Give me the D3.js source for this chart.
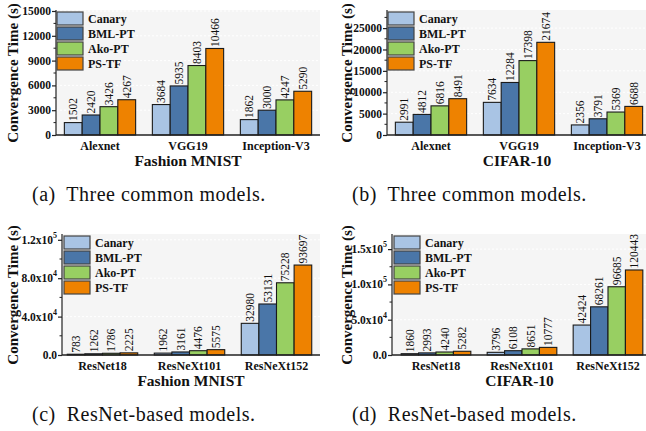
<!DOCTYPE html>
<html>
<head>
<meta charset="utf-8">
<script src="https://cdn.jsdelivr.net/npm/d3@7/dist/d3.min.js"></script>
<style>
  body { margin: 0; background: #fff; }
  svg { display: block; font-family: "Liberation Serif", "Times New Roman", serif; }
</style>
</head>
<body>
<svg id="chart" width="646" height="431"></svg>
<script>
// ---- data ----
var methods = ["Canary", "BML-PT", "Ako-PT", "PS-TF"];
var commonModels = ["Alexnet", "VGG19", "Inception-V3"];
var resnetModels = ["ResNet18", "ResNeXt101", "ResNeXt152"];

// values[model][method]
var fmnistCommon = [[1502, 2420, 3426, 4267], [3684, 5935, 8403, 10466], [1862, 3000, 4247, 5290]];
var cifarCommon = [[2991, 4812, 6816, 8491], [7634, 12284, 17398, 21674], [2356, 3791, 5369, 6688]];
var fmnistResnet = [[783, 1262, 1786, 2225], [1962, 3161, 4476, 5575], [32980, 53131, 75228, 93697]];
var cifarResnet = [[1860, 2993, 4240, 5282], [3796, 6108, 8651, 10777], [42424, 68261, 96685, 120443]];

var ticksA = [0, 3000, 6000, 9000, 12000, 15000];
var ticksB = [0, 5000, 10000, 15000, 20000, 25000];
var ticksC = [0, 40000, 80000, 120000];
var ticksD = [0, 50000, 100000, 150000];
// labels for the x10^n ticks: [mantissa, exponent]
var tickLabelsC = [["0.0", ""], ["4.0x10", "4"], ["8.0x10", "4"], ["1.2x10", "5"]];
var tickLabelsD = [["0.0", ""], ["5.0x10", "4"], ["1.0x10", "5"], ["1.5x10", "5"]];

var captions = ["(a)  Three common models.", "(b)  Three common models.",
                "(c)  ResNet-based models.", "(d)  ResNet-based models."];
var datasets = ["Fashion MNIST", "CIFAR-10"];

var colors = ["#a9c4e4", "#4a76a8", "#98cf62", "#ee8200"];

var svg = d3.select("#chart");

var panels = [
  { values: fmnistCommon, models: commonModels, ticks: ticksA, labels: null, yMax: 15000,
    axisX: 56, x0: 56, x1: 320, top: 11, bottom: 135, title: datasets[0], ytitleX: 18,
    legendX: 57, legendY: 12, caption: captions[0], capX: 32, capY: 201 },
  { values: cifarCommon, models: commonModels, ticks: ticksB, labels: null, yMax: 29000,
    axisX: 387, x0: 387, x1: 651, top: 11, bottom: 135, title: datasets[1], ytitleX: 352,
    legendX: 388, legendY: 12, caption: captions[1], capX: 352, capY: 201 },
  { values: fmnistResnet, models: resnetModels, ticks: ticksC, labels: tickLabelsC, yMax: 125000,
    axisX: 62, x0: 59, x1: 320, top: 235, bottom: 355, title: datasets[0], ytitleX: 18,
    legendX: 64, legendY: 236, caption: captions[2], capX: 32, capY: 421 },
  { values: cifarResnet, models: resnetModels, ticks: ticksD, labels: tickLabelsD, yMax: 170000,
    axisX: 392, x0: 393, x1: 651, top: 235, bottom: 355, title: datasets[1], ytitleX: 352,
    legendX: 394, legendY: 236, caption: captions[3], capX: 352, capY: 421 }
];

panels.forEach(function (p) {
  var g = svg.append("g");

  var x = d3.scaleBand().domain(p.models).range([p.x0, p.x1]).paddingInner(0.19).paddingOuter(0.095);
  var xi = d3.scaleBand().domain(methods).range([0, x.bandwidth()]);
  var y = d3.scaleLinear().domain([0, p.yMax]).range([p.bottom, p.top]);

  // plot background
  g.append("rect")
    .attr("x", p.axisX).attr("y", p.top - 1)
    .attr("width", p.x1 - p.axisX).attr("height", p.bottom - p.top + 1)
    .attr("fill", "#f5f5f5");

  // dotted grid
  g.selectAll(".grid").data(p.ticks.slice(1)).enter().append("line")
    .attr("x1", p.axisX).attr("x2", p.x1)
    .attr("y1", function (d) { return y(d); }).attr("y2", function (d) { return y(d); })
    .attr("stroke", "#fff").attr("stroke-width", 1).attr("stroke-dasharray", "2,2");

  // bars
  var grp = g.selectAll(".grp").data(p.values).enter().append("g")
    .attr("transform", function (d, i) { return "translate(" + x(p.models[i]) + ",0)"; });

  grp.selectAll("rect").data(function (d) { return d; }).enter().append("rect")
    .attr("x", function (d, j) { return xi(methods[j]); })
    .attr("y", function (d) { return y(d); })
    .attr("width", xi.bandwidth())
    .attr("height", function (d) { return p.bottom - y(d); })
    .attr("fill", function (d, j) { return colors[j]; })
    .attr("stroke", "#1a1a1a").attr("stroke-width", 1.1);

  grp.selectAll("text").data(function (d) { return d; }).enter().append("text")
    .attr("transform", function (d, j) {
      return "translate(" + (xi(methods[j]) + xi.bandwidth() / 2) + "," + (y(d) - 1.5) + ") rotate(-90)";
    })
    .attr("dy", "0.35em")
    .attr("font-size", "11.5px")
    .attr("fill", "#111")
    .text(function (d) { return d; });

  // y axis
  var yAxis = d3.axisLeft(y).tickValues(p.ticks).tickSize(4).tickPadding(2).tickFormat("");
  var ax = g.append("g").attr("transform", "translate(" + p.axisX + ",0)").call(yAxis);
  ax.select(".domain").attr("d", "M0," + (p.top - 1) + "V" + p.bottom).attr("stroke", "#222").attr("stroke-width", 1.2);
  ax.selectAll(".tick line").attr("stroke", "#222").attr("stroke-width", 1.2);

  // minor ticks
  var minors = [];
  for (var k = 0; k < p.ticks.length - 1; k++) minors.push((p.ticks[k] + p.ticks[k + 1]) / 2);
  if (p.ticks[p.ticks.length - 1] + (p.ticks[1] - p.ticks[0]) / 2 < p.yMax)
    minors.push(p.ticks[p.ticks.length - 1] + (p.ticks[1] - p.ticks[0]) / 2);
  g.selectAll(".minor").data(minors).enter().append("line")
    .attr("x1", p.axisX - 2.5).attr("x2", p.axisX)
    .attr("y1", function (d) { return y(d); }).attr("y2", function (d) { return y(d); })
    .attr("stroke", "#222").attr("stroke-width", 1);

  // y tick labels
  var tl = g.selectAll(".tl").data(p.ticks).enter().append("text")
    .attr("x", p.axisX - 5)
    .attr("y", function (d) { return y(d); })
    .attr("dy", "0.35em")
    .attr("text-anchor", "end")
    .attr("font-size", "11.5px").attr("font-weight", "bold").attr("fill", "#111");
  if (p.labels) {
    tl.each(function (d, i) {
      var t = d3.select(this), lab = p.labels[i];
      t.append("tspan").text(lab[0]);
      if (lab[1]) t.append("tspan").attr("font-size", "8px").attr("dy", "-0.75em").text(lab[1]);
    });
  } else {
    tl.text(function (d) { return d; });
  }

  // x axis line
  g.append("line").attr("x1", p.axisX).attr("x2", p.x1)
    .attr("y1", p.bottom).attr("y2", p.bottom)
    .attr("stroke", "#222").attr("stroke-width", 1.4);

  // x tick labels
  g.selectAll(".xl").data(p.models).enter().append("text")
    .attr("x", function (d) { return x(d) + x.bandwidth() / 2; })
    .attr("y", p.bottom + 15)
    .attr("text-anchor", "middle")
    .attr("font-size", "12px").attr("font-weight", "bold").attr("fill", "#111")
    .text(function (d) { return d; });

  // x title
  g.append("text")
    .attr("x", (p.axisX + p.x1) / 2 + (p.x1 > 646 ? -2 : 0))
    .attr("y", p.bottom + 31)
    .attr("text-anchor", "middle")
    .attr("font-size", "15.5px").attr("font-weight", "bold").attr("fill", "#111")
    .text(p.title);

  // y title
  g.append("text")
    .attr("transform", "translate(" + p.ytitleX + "," + ((p.top + p.bottom) / 2) + ") rotate(-90)")
    .attr("text-anchor", "middle")
    .attr("font-size", "15px").attr("font-weight", "bold").attr("fill", "#111")
    .text("Convergence Time (s)");

  // legend
  var lg = g.selectAll(".lg").data(methods).enter().append("g")
    .attr("transform", function (d, i) { return "translate(" + p.legendX + "," + (p.legendY + i * 15) + ")"; });
  lg.append("rect").attr("width", 26).attr("height", 13)
    .attr("fill", function (d, i) { return colors[i]; })
    .attr("stroke", "#444").attr("stroke-width", 1.2);
  lg.append("text").attr("x", 31).attr("y", 6.5).attr("dy", "0.35em")
    .attr("font-size", "12px").attr("font-weight", "bold").attr("fill", "#111")
    .text(function (d) { return d; });

  // caption
  svg.append("text")
    .attr("x", p.capX).attr("y", p.capY)
    .attr("font-size", "20px").attr("fill", "#111")
    .attr("letter-spacing", "0.5px")
    .attr("xml:space", "preserve")
    .style("white-space", "pre")
    .text(p.caption);
});
</script>
</body>
</html>
